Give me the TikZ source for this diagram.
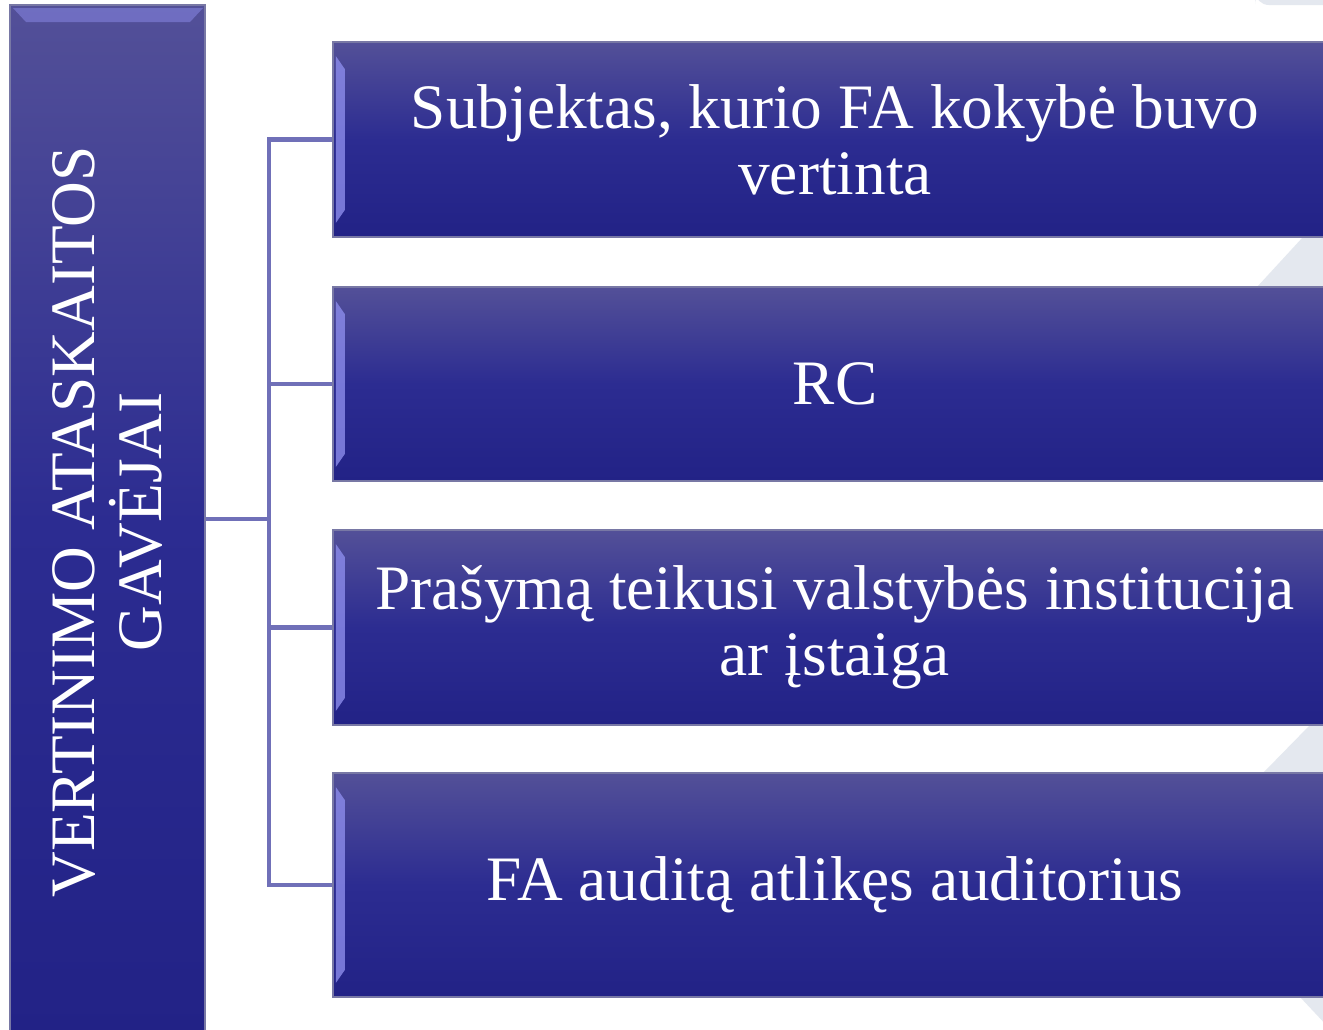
\documentclass[tikz,border=0pt]{standalone}
\usepackage{fontspec}
\setmainfont{Liberation Serif}
\usetikzlibrary{calc}
\definecolor{boxtop}{RGB}{83,80,152}
\definecolor{boxmid}{RGB}{44,44,145}
\definecolor{boxbot}{RGB}{34,34,134}
\definecolor{boxedge}{RGB}{120,120,165}
\definecolor{bevel}{RGB}{140,140,235}
\definecolor{linecol}{RGB}{112,112,184}
\definecolor{backdrop}{RGB}{228,232,239}
\tikzset{
    recvbox/.style={draw=boxedge, line width=0.5pt, top color=boxtop, bottom color=boxbot,
        middle color=boxmid, text=white, align=center, inner sep=0pt,
        font=\fontsize{18}{18.8}\selectfont},
    conn/.style={draw=linecol, line width=1.3pt}
}
\begin{document}
\begin{tikzpicture}[x=0.01cm, y=-0.01cm]
    \clip (0,0) rectangle (1323,1029);
    \fill[white] (0,0) rectangle (1323,1029);

    % backdrop stripes
    \fill[backdrop] (1257,287) -- (1303,237) -- (1330,237) -- (1330,287) -- cycle;
    \fill[backdrop] (1263,773) -- (1310,725) -- (1330,725) -- (1330,773) -- cycle;
    \fill[backdrop] (1300,997) -- (1330,1029) -- (1330,997) -- cycle;
    \fill[backdrop, rounded corners=4pt] (1255,-10) rectangle (1340,5);

    % Receivers
    \node[recvbox, minimum width=1.95cm, minimum height=10.34cm] (recv) at (107.5,522) {};
    \node[text=white, align=center, rotate=90, font=\fontsize{18}{18.8}\selectfont]
        (recvtxt) at (recv.center) {VERTINIMO ATASKAITOS\\GAVĖJAI};

    \node[recvbox, minimum width=10.04cm, minimum height=1.95cm] (subj) at (835,139.5)
        {Subjektas, kurio FA kokybė buvo\\vertinta};
    \node[recvbox, minimum width=10.04cm, minimum height=1.94cm] (rc) at (835,384)
        {RC};
    \node[recvbox, minimum width=10.04cm, minimum height=1.95cm] (inst) at (835,627.5)
        {Prašymą teikusi valstybės institucija\\ar įstaiga};
    \node[recvbox, minimum width=10.04cm, minimum height=2.24cm] (aud) at (835,885)
        {FA auditą atlikęs auditorius};

    % Bevels
    \foreach \b in {subj,rc,inst,aud} {
        \fill[bevel, opacity=0.8] ($(\b.north west)+(4,15)$) -- ($(\b.north west)+(13,28)$)
            -- ($(\b.south west)+(13,-28)$) -- ($(\b.south west)+(4,-15)$) -- cycle;
    }
    \fill[bevel, opacity=0.5] (13,8) -- (203,8) -- (190,22) -- (26,22) -- cycle;

    % Connectors
    \coordinate (hub) at (269,519);
    \draw[conn] (recv.east |- hub) -- (hub);
    \draw[conn] (hub) |- (subj.west);
    \draw[conn] (hub) |- (rc.west);
    \draw[conn] (hub) |- (inst.west);
    \draw[conn] (hub) |- (aud.west);
\end{tikzpicture}
\end{document}
